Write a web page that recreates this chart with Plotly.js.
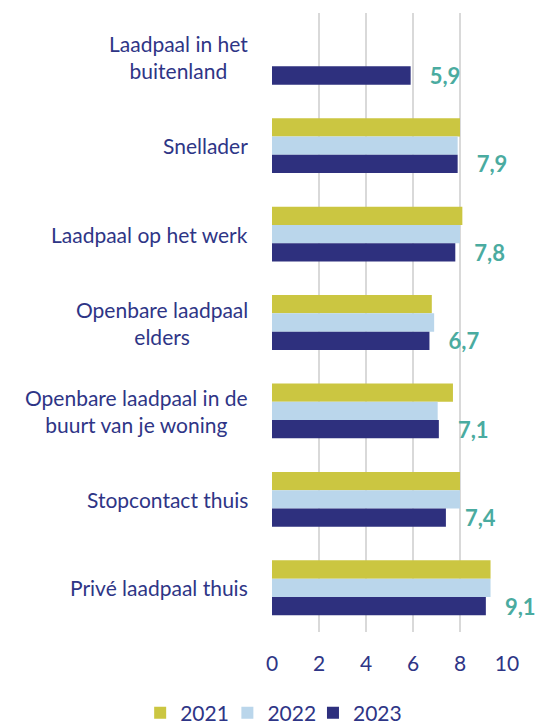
<!DOCTYPE html>
<html>
<head>
<meta charset="utf-8">
<script src="https://cdn.plot.ly/plotly-3.0.1.min.js"></script>
<style>
  html, body { margin: 0; padding: 0; background: #fff; }
  #chart { width: 535px; height: 724px; }
</style>
</head>
<body>
<div id="chart"></div>
<script>
// categories top to bottom
const categories = [
    "Laadpaal in het<br>buitenland",
    "Snellader",
    "Laadpaal op het werk",
    "Openbare laadpaal<br>elders",
    "Openbare laadpaal in de<br>buurt van je woning",
    "Stopcontact thuis",
    "Privé laadpaal thuis"
];

const years = ["2021", "2022", "2023"];
const values2021 = [null, 8.0, 8.1, 6.8, 7.7, 8.0, 9.3];
const values2022 = [null, 7.9, 8.0, 6.9, 7.05, 8.0, 9.3];
const values2023 = [5.9, 7.9, 7.8, 6.7, 7.1, 7.4, 9.1];
const xTicks = [0, 2, 4, 6, 8, 10];

const colors = ["#cbc641", "#bad6eb", "#2e307e"];
const navy = "#2e3586";
const teal = "#4aaba0";
const font = "Lato, 'Open Sans', sans-serif";

function barTrace(name, values, color, legendId, withLabels) {
    const trace = {
        type: "bar",
        orientation: "h",
        name: name,
        x: values,
        y: categories,
        legend: legendId,
        marker: { color: color },
        hoverinfo: "x+name"
    };
    if (withLabels) {
        trace.texttemplate = "\u00a0\u00a0\u00a0%{x:.1f}";
        trace.textposition = "outside";
        trace.cliponaxis = false;
        trace.constraintext = "none";
        trace.textfont = { family: font, size: 22, color: teal, weight: "bold" };
    }
    return trace;
}

const data = [
    barTrace(years[0], values2021, colors[0], "legend", false),
    barTrace(years[1], values2022, colors[1], "legend2", false),
    barTrace(years[2], values2023, colors[2], "legend3", true)
];

// category labels as annotations so multi-line labels are centred
const labelNotes = categories.map((c) => ({
    text: c,
    x: 0,
    xref: "paper",
    xanchor: "right",
    xshift: -22,
    y: c,
    yref: "y",
    yanchor: "middle",
    align: "center",
    showarrow: false,
    font: { family: font, size: 21, color: navy }
}));

// one legend box per year so the row does not wrap
function legendBox(x) {
    return {
        orientation: "h",
        xref: "container",
        yref: "container",
        x: x,
        xanchor: "left",
        y: 0.015,
        yanchor: "middle",
        bgcolor: "rgba(0,0,0,0)",
        font: { family: font, size: 21, color: navy },
        itemclick: false
    };
}

const layout = {
    width: 535,
    height: 724,
    margin: { l: 272, r: 28, t: 13, b: 92 },
    paper_bgcolor: "#fff",
    plot_bgcolor: "#fff",
    separators: ",.",
    barmode: "group",
    bargap: 0.38,
    bargroupgap: 0,
    font: { family: font, size: 21, color: navy },
    xaxis: {
        range: [0, 10],
        tickvals: xTicks,
        showgrid: true,
        gridcolor: "#d9d9d9",
        gridwidth: 2,
        zeroline: false,
        showline: false,
        ticks: "",
        ticklabelstandoff: 17,
        tickfont: { family: font, size: 21, color: navy },
        fixedrange: true
    },
    yaxis: {
        type: "category",
        categoryorder: "array",
        categoryarray: categories,
        autorange: "reversed",
        showticklabels: false,
        showgrid: false,
        zeroline: false,
        ticks: "",
        fixedrange: true
    },
    showlegend: true,
    legend: legendBox(0.262),
    legend2: legendBox(0.425),
    legend3: legendBox(0.585),
    annotations: labelNotes
};

Plotly.newPlot("chart", data, layout, { displayModeBar: false, staticPlot: true });
</script>
</body>
</html>
